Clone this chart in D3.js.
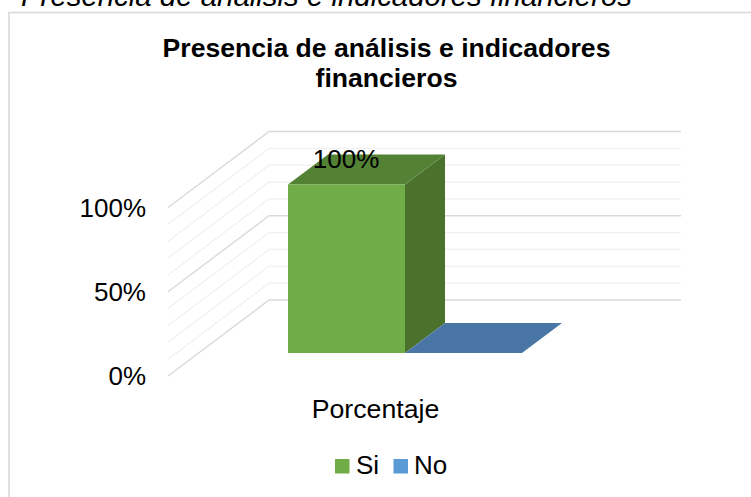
<!DOCTYPE html>
<html><head><meta charset="utf-8">
<script src="https://cdn.jsdelivr.net/npm/d3@7"></script>
<style>html,body{margin:0;padding:0;background:#fff}svg{display:block}text{font-family:"Liberation Sans",Arial,sans-serif;fill:#000}</style>
</head><body><svg id="c" width="751" height="497"></svg>
<script>
const categories = ["Porcentaje"];
const seriesNames = ["Si", "No"];
const seriesValues = [1, 0];
const seriesFront = ["#70ad47", "#4a76a6"];
const seriesTop = ["#548235", "#4a76a6"];
const seriesSide = ["#4a722c", "#4a76a6"];
const legendColors = ["#70ad47", "#5b9bd5"];
const yTicks = [0, 0.5, 1];
const gridTicks = [0, .1, .2, .3, .4, .5, .6, .7, .8, .9, 1];
const chartTitle = ["Presencia de análisis e indicadores", "financieros"];
const caption = "Presencia de análisis e indicadores financieros";

const svg = d3.select("#c");
svg.append("rect").attr("x", 9).attr("y", 12.5).attr("width", 800).attr("height", 600)
  .attr("fill", "#fff").attr("stroke", "#d9d9d9").attr("stroke-width", 1.6);
svg.append("text").attr("x", 21).attr("y", 6).attr("font-size", 29.4).attr("font-style", "italic").text(caption);
chartTitle.forEach((t, i) => svg.append("text").attr("x", 386.5).attr("y", 57 + i * 30)
  .attr("text-anchor", "middle").attr("font-size", 26.6).attr("font-weight", "bold").text(t));

// back wall scale; depth offset maps wall to the front plane
const y = d3.scaleLinear().domain([0, 1]).range([300, 131.5]);
const wallL = 269, wallR = 681, wallDX = -101, wallDY = 76;
const g = svg.append("g");
gridTicks.forEach(t => {
  const major = yTicks.includes(t);
  const p = d3.path();
  p.moveTo(wallL + wallDX, y(t) + wallDY); p.lineTo(wallL, y(t)); p.lineTo(wallR, y(t));
  g.append("path").attr("d", p.toString()).attr("fill", "none")
    .attr("stroke", major ? "#d9d9d9" : "#f0f0f0").attr("stroke-width", major ? 1.4 : 1.2);
});
yTicks.forEach(t => svg.append("text").attr("x", 146).attr("y", y(t) + wallDY + 9)
  .attr("text-anchor", "end").attr("font-size", 26).text(d3.format(".0%")(t)));

// bars
const x = d3.scaleBand().domain(seriesNames).range([288, 522]);
const ddx = 40, ddy = -30, frontShift = 53;
const poly = pts => d3.line()(pts);
seriesNames.forEach((s, i) => {
  const x0 = x(s), x1 = x0 + x.bandwidth();
  const yb = y(0) + frontShift, yt = y(seriesValues[i]) + frontShift;
  const grp = svg.append("g");
  grp.append("path").attr("fill", seriesSide[i]).attr("d", poly([[x1, yt], [x1 + ddx, yt + ddy], [x1 + ddx, yb + ddy], [x1, yb]]) + "Z");
  grp.append("path").attr("fill", seriesTop[i]).attr("d", poly([[x0, yt], [x0 + ddx, yt + ddy], [x1 + ddx, yt + ddy], [x1, yt]]) + "Z");
  if (seriesValues[i] > 0) {
    grp.append("rect").attr("x", x0).attr("y", yt).attr("width", x.bandwidth()).attr("height", yb - yt).attr("fill", seriesFront[i]);
    svg.append("text").attr("x", 346).attr("y", 168).attr("text-anchor", "middle").attr("font-size", 26)
      .text(d3.format(".0%")(seriesValues[i]));
  }
});

svg.append("text").attr("x", 375.5).attr("y", 418).attr("text-anchor", "middle").attr("font-size", 26.7).text(categories[0]);

const lx = [335, 393.5], ltx = [356, 414];
seriesNames.forEach((s, i) => {
  svg.append("rect").attr("x", lx[i]).attr("y", 459).attr("width", 14.5).attr("height", 14.5).attr("fill", legendColors[i]);
  svg.append("text").attr("x", ltx[i]).attr("y", 474).attr("font-size", 26).text(s);
});
</script></body></html>
